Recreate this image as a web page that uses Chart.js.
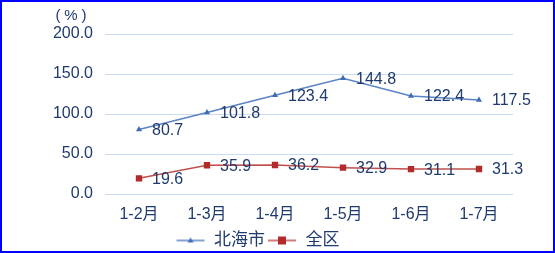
<!DOCTYPE html>
<html>
<head>
<meta charset="utf-8">
<script src="https://cdn.jsdelivr.net/npm/chart.js@4"></script>
<style>
body { margin: 0; background: #fff; }
#box { width: 551px; height: 249px; border: 2px solid #0000ff; }
</style>
</head>
<body>
<div id="box"><canvas id="chart-area" width="551" height="249"></canvas></div>
<script>
var months = ["1-2月", "1-3月", "1-4月", "1-5月", "1-6月", "1-7月"];
var beihai = [80.7, 101.8, 123.4, 144.8, 122.4, 117.5];
var quanqu = [19.6, 35.9, 36.2, 32.9, 31.1, 31.3];
var yTicks = [0, 50, 100, 150, 200];

var textColor = "#1f3a6e";
var fontFam = "'Liberation Sans', 'Noto Sans CJK SC', sans-serif";

function legendIcon(lineColor, markColor, shape) {
    var c = document.createElement("canvas");
    c.width = 30; c.height = 10;
    var g = c.getContext("2d");
    g.strokeStyle = lineColor; g.lineWidth = 1.5;
    g.beginPath(); g.moveTo(1, 5); g.lineTo(29, 5); g.stroke();
    g.fillStyle = markColor;
    if (shape == "tri") {
        g.beginPath(); g.moveTo(15, 2); g.lineTo(18, 7); g.lineTo(12, 7); g.closePath(); g.fill();
    } else {
        g.fillRect(11, 1, 8, 8);
    }
    return c;
}

var icons = [legendIcon("#5b84c4", "#3f6db3", "tri"), legendIcon("#c0504d", "#b22a2a", "sq")];

// value labels to the right of each point
var valueLabels = {
    id: "valueLabels",
    afterDatasetsDraw: function(chart) {
        var ctx = chart.ctx;
        ctx.save();
        ctx.font = "16px " + fontFam;
        ctx.fillStyle = textColor;
        ctx.textBaseline = "middle";
        ctx.textAlign = "left";
        chart.data.datasets.forEach(function(ds, i) {
            chart.getDatasetMeta(i).data.forEach(function(pt, j) {
                ctx.fillText(ds.data[j].toFixed(1), pt.x + 13, pt.y + 1);
            });
        });
        // unit label above the y axis
        ctx.font = "15px " + fontFam;
        ctx.textAlign = "center";
        ctx.fillText("(", 56, 14);
        ctx.fillText("%", 69, 14);
        ctx.fillText(")", 82, 14);
        ctx.restore();
    }
};

var config = {
    type: 'line',
    data: {
        labels: months,
        datasets: [{
            label: "北海市",
            data: beihai,
            borderColor: "#5b84c4",
            backgroundColor: "#3f6db3",
            borderWidth: 1.5,
            pointStyle: "triangle",
            pointRadius: 3.5,
            pointBorderWidth: 0,
            tension: 0
        }, {
            label: "全区",
            data: quanqu,
            borderColor: "#c0504d",
            backgroundColor: "#b22a2a",
            borderWidth: 1.5,
            pointStyle: "rect",
            pointRadius: 4.5,
            pointBorderWidth: 0,
            tension: 0
        }]
    },
    options: {
        responsive: false,
        animation: false,
        layout: { padding: { top: 32, right: 40, bottom: -8, left: 0 } },
        scales: {
            x: {
                offset: true,
                grid: { display: false },
                border: { display: false },
                ticks: { color: textColor, font: { size: 16, family: fontFam }, padding: 3, maxRotation: 0 },
                afterFit: function(s) { s.height = 36; }
            },
            y: {
                min: 0,
                max: 200,
                afterBuildTicks: function(s) { s.ticks = yTicks.map(function(v) { return { value: v }; }); },
                grid: { color: "#c9dcf0", lineWidth: 1, drawTicks: false },
                border: { display: false },
                ticks: {
                    color: textColor,
                    font: { size: 16, family: fontFam },
                    padding: 12,
                    callback: function(v) { return v.toFixed(1); }
                },
                afterFit: function(s) { s.width = 103; }
            }
        },
        plugins: {
            legend: {
                position: "bottom",
                labels: {
                    color: textColor,
                    font: { size: 17, family: fontFam },
                    usePointStyle: true,
                    pointStyleWidth: 30,
                    padding: 2,
                    generateLabels: function(chart) {
                        return chart.data.datasets.map(function(ds, i) {
                            return {
                                text: ds.label,
                                pointStyle: icons[i],
                                fillStyle: ds.backgroundColor,
                                strokeStyle: ds.borderColor,
                                lineWidth: 0,
                                fontColor: textColor,
                                datasetIndex: i
                            };
                        });
                    }
                }
            },
            tooltip: { enabled: false }
        }
    },
    plugins: [valueLabels]
};

var ctx = document.getElementById("chart-area").getContext("2d");
var myChart = new Chart(ctx, config);
</script>
</body>
</html>
